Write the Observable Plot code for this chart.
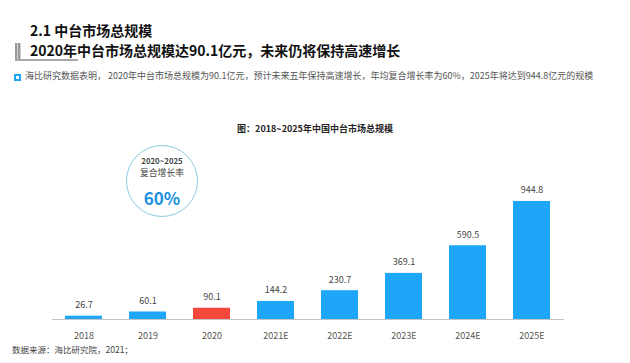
<!DOCTYPE html>
<html>
<head>
<meta charset="utf-8">
<script src="https://cdn.jsdelivr.net/npm/d3@7"></script>
<script src="https://cdn.jsdelivr.net/npm/@observablehq/plot@0.6"></script>
<style>
  html, body { margin: 0; padding: 0; background: #fff; }
  body { width: 630px; height: 363px; position: relative; overflow: hidden; font-family: "Noto Sans CJK SC", "Noto Sans", sans-serif; }
  .abs { position: absolute; white-space: nowrap; }
  #t1 { left: 30px; top: 23px; font-size: 14px; font-weight: bold; color: #111; line-height: 1; }
  #t2 { left: 30px; top: 43px; font-size: 14px; font-weight: bold; color: #111; line-height: 1; }
  #decoV { left: 15px; top: 43px; width: 6px; height: 16px; background: repeating-linear-gradient(90deg, #9a9a9a 0 2px, #cfcfcf 2px 3px); }
  #decoH { left: 15px; top: 59px; width: 63px; height: 2px; background: #a8a8a8; }
  #bullet { left: 14px; top: 74px; width: 3px; height: 3px; border: 2px solid #1ea7f8; }
  #sub { left: 25px; top: 71px; font-size: 9px; color: #555; line-height: 1; }
  #ctitle { left: 0; width: 630px; text-align: center; top: 124px; font-size: 9px; font-weight: bold; color: #222; line-height: 1; }
  #chart { left: 0; top: 110px; }
  #circle { left: 126px; top: 145px; width: 72px; height: 72px; border: 1.2px solid #8ccbe3; border-radius: 50%; box-sizing: border-box; }
  .ct { left: 126px; width: 72px; text-align: center; line-height: 1; }
  #c1 { top: 157px; font-size: 7.8px; color: #444; font-weight: bold; }
  #c2 { top: 169px; font-size: 8.8px; color: #444; }
  #c3 { top: 189px; font-size: 17px; color: #1a8fe0; font-weight: bold; }
  #src { left: 12px; top: 345px; font-size: 8.5px; color: #444; line-height: 1; }
</style>
</head>
<body>
<script>
// ---- data ----
const titleLine1 = "2.1 中台市场总规模";
const titleLine2 = "2020年中台市场总规模达90.1亿元，未来仍将保持高速增长";
const subtitle = "海比研究数据表明，  2020年中台市场总规模为90.1亿元，预计未来五年保持高速增长，年均复合增长率为60%，2025年将达到944.8亿元的规模";
const chartTitle = "图：2018~2025年中国中台市场总规模";
const circleLines = ["2020~2025", "复合增长率", "60%"];
const source = "数据来源：海比研究院，2021；";

const years = ["2018", "2019", "2020", "2021E", "2022E", "2023E", "2024E", "2025E"];
const values = [26.7, 60.1, 90.1, 144.2, 230.7, 369.1, 590.5, 944.8];
const highlightYear = "2020";

// ---- page ----
function addDiv(id, text) {
  const d = document.createElement("div");
  d.className = "abs" + (/^c\d$/.test(id) ? " ct" : "");
  d.id = id;
  if (text != null) d.textContent = text;
  document.body.appendChild(d);
  return d;
}
addDiv("decoV");
addDiv("decoH");
addDiv("t1", titleLine1);
addDiv("t2", titleLine2);
addDiv("bullet");
addDiv("sub", subtitle);

const data = years.map((y, i) => ({year: y, value: values[i]}));

const chart = Plot.plot({
  width: 630,
  height: 235,
  marginLeft: 52,
  marginRight: 66,
  marginTop: 10,
  marginBottom: 26,
  x: {domain: years, paddingInner: 0.42, paddingOuter: 0.21, label: null, tickSize: 0, tickPadding: 13},
  y: {domain: [0, 1593], axis: null},
  style: {fontFamily: "'Noto Sans CJK SC', sans-serif", fontSize: "9px", color: "#555", background: "transparent"},
  marks: [
    Plot.barY(data, {x: "year", y: "value", fill: d => d.year === highlightYear ? "#F5473B" : "#1EA7F8"}),
    Plot.ruleY([0], {stroke: "#c4c4c4", strokeWidth: 1}),
    Plot.text(data, {x: "year", y: "value", text: d => d.value.toFixed(1), dy: -11, fontSize: 9, fill: "#444"})
  ]
});
const wrap = document.createElement("div");
wrap.className = "abs";
wrap.id = "chart";
wrap.appendChild(chart);
document.body.appendChild(wrap);

addDiv("ctitle", chartTitle);
addDiv("circle");
addDiv("c1", circleLines[0]);
addDiv("c2", circleLines[1]);
addDiv("c3", circleLines[2]);
addDiv("src", source);
</script>
</body>
</html>
